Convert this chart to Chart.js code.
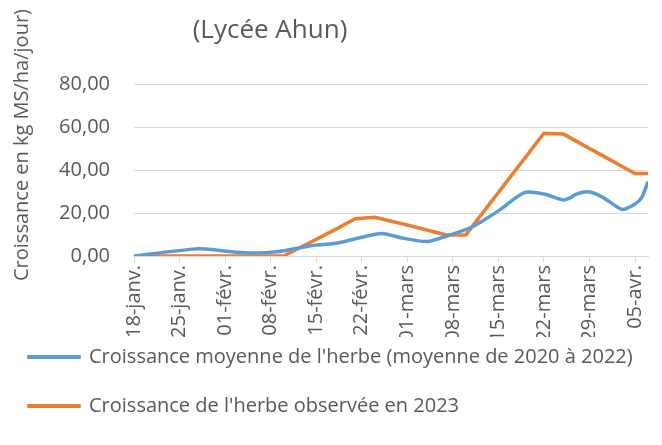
<!DOCTYPE html>
<html>
<head>
<meta charset="utf-8">
<script src="https://cdn.jsdelivr.net/npm/chart.js@4/dist/chart.umd.min.js"></script>
<style>
  body { margin: 0; background: #ffffff; }
  #wrap { width: 662px; height: 445px; position: relative; }
</style>
</head>
<body>
<div id="wrap"><canvas id="growthChart"></canvas></div>
<script>
// x values are days counted from 18-janv.
const xTickLabels = ["18-janv.", "25-janv.", "01-févr.", "08-févr.", "15-févr.", "22-févr.",
                     "01-mars", "08-mars", "15-mars", "22-mars", "29-mars", "05-avr."];

const avgDays   = [0, 9, 11, 17, 22, 27, 31, 38, 41, 45, 48, 52, 56, 60, 63, 66, 67, 68, 70, 72, 75, 77, 78, 79];
const avgGrowth = [0, 3.2, 3.2, 1.5, 2.0, 4.7, 5.9, 10.5, 8.5, 6.7, 9.2, 13.6, 21.0, 29.5, 28.8, 26.0, 27.0, 28.8, 29.8, 27.4, 21.7, 24.2, 27.0, 34.6];

const obsDays   = [0, 23, 31, 34, 37, 42, 48, 51, 63, 66, 77, 79];
const obsGrowth = [0, 0, 12.4, 17.3, 18.0, 14.4, 9.8, 9.8, 57.1, 56.7, 38.4, 38.4];

const chartTitle = "(Lycée Ahun)";
const yTitle = "Croissance en kg MS/ha/jour)";
const seriesNames = ["Croissance moyenne de l'herbe (moyenne de 2020 à 2022)",
                     "Croissance de l'herbe observée en 2023"];

const textColor = "#595959";
const gridColor = "#d9d9d9";
Chart.defaults.font.family = "'Open Sans', sans-serif";
Chart.defaults.color = textColor;

// title and y axis title sit off-centre in the original, so draw them by hand
const sideTexts = {
    id: "sideTexts",
    afterLayout(chart) {
        // pull the legend up so it tucks under the rotated date labels
        chart.legend.top -= 19;
        chart.legend.bottom -= 19;
    },
    afterDraw(chart) {
        const ctx = chart.ctx;
        ctx.save();
        ctx.fillStyle = textColor;
        ctx.textAlign = "center";
        ctx.textBaseline = "middle";
        ctx.font = "26px 'Open Sans', sans-serif";
        ctx.fillText(chartTitle, 270, 31);
        ctx.translate(22, 145);
        ctx.rotate(-Math.PI / 2);
        ctx.font = "20px 'Open Sans', sans-serif";
        ctx.fillText(yTitle, 0, 0);
        ctx.restore();
    }
};

new Chart(document.getElementById("growthChart"), {
    type: "line",
    data: {
        datasets: [{
            label: seriesNames[0],
            data: avgDays.map((d, i) => ({ x: d, y: avgGrowth[i] })),
            borderColor: "#5b9bd5",
            backgroundColor: "#5b9bd5",
            borderWidth: 3.5,
            pointRadius: 0,
            tension: 0.25
        }, {
            label: seriesNames[1],
            data: obsDays.map((d, i) => ({ x: d, y: obsGrowth[i] })),
            borderColor: "#ed7d31",
            backgroundColor: "#ed7d31",
            borderWidth: 3.5,
            pointRadius: 0,
            tension: 0
        }]
    },
    options: {
        responsive: true,
        maintainAspectRatio: false,
        animation: false,
        layout: { padding: { top: 84, bottom: 0, left: 0, right: 0 } },
        plugins: {
            title: { display: false },
            tooltip: { enabled: false },
            legend: {
                display: true,
                position: "bottom",
                align: "start",
                labels: {
                    color: textColor,
                    font: { size: 20 },
                    boxWidth: 50,
                    boxHeight: 0.5,
                    padding: 29
                }
            }
        },
        scales: {
            x: {
                type: "linear",
                min: 0,
                max: 79,
                border: { display: true, color: gridColor, width: 1 },
                grid: { drawOnChartArea: false, drawTicks: true, tickLength: 6, color: gridColor },
                ticks: {
                    stepSize: 7,
                    includeBounds: false,
                    minRotation: 90,
                    maxRotation: 90,
                    padding: 3,
                    color: textColor,
                    font: { size: 20 },
                    callback: v => xTickLabels[Math.round(v / 7)]
                },
                afterFit: axis => { axis.height = 81; }
            },
            y: {
                min: 0,
                max: 80,
                border: { display: false },
                grid: { color: gridColor, drawTicks: false },
                ticks: {
                    stepSize: 20,
                    padding: 24,
                    color: textColor,
                    font: { size: 20 },
                    callback: v => v.toFixed(2).replace(".", ",")
                },
                afterFit: axis => { axis.width = 134; }
            }
        }
    },
    plugins: [sideTexts]
});
</script>
</body>
</html>
